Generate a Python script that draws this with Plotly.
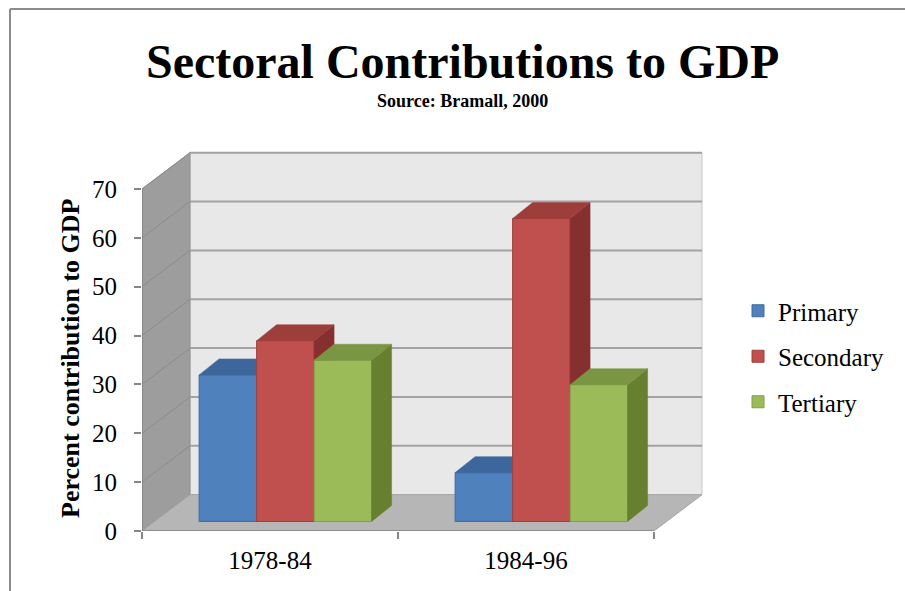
import plotly.graph_objects as go

# ---------------- data ----------------
categories = ["1978-84", "1984-96"]
series_names = ["Primary", "Secondary", "Tertiary"]
primary = [30, 10]
secondary = [37, 62]
tertiary = [33, 28]
y_ticks = [0, 10, 20, 30, 40, 50, 60, 70]

# ---------------- style ----------------
front_colors = ["#4f81bd", "#c0504d", "#9bbb59"]
top_colors = ["#3d679c", "#9e3e3b", "#7b9642"]
side_colors = ["#30558a", "#85302e", "#66802f"]
edge_colors = ["#3e6a9f", "#a03f3c", "#80a048"]
FONT = "Liberation Serif, Times New Roman, serif"

W, H = 905, 591
L, R, T, B = 142, 195, 150, 60
BAR_W = 0.2246
GROUP_SHIFT = 0.06
BASE = 1.95
DEPTH_X = 0.078
DEPTH_Y = 3.27
WALL_X = 0.1875
WALL_Y = 7.43
X_LO, X_HI = -0.5, 1.5
X_RANGE = [-0.5, -0.5 + (W - L - R) / 256.0]
Y_RANGE = [0, (H - B - T) / 4.886]

fig = go.Figure()
values = [primary, secondary, tertiary]
cat_x = list(range(len(categories)))

for s, (name, vals) in enumerate(zip(series_names, values)):
    xs = [c + GROUP_SHIFT + (s - 1) * BAR_W for c in cat_x]
    fig.add_trace(go.Bar(
        x=xs, y=vals, base=BASE, width=BAR_W, name=name,
        marker=dict(color=front_colors[s], line=dict(color=edge_colors[s], width=1)),
        zorder=s, legendgroup=name, hoverinfo="skip"))
    for x, v in zip(xs, vals):
        x0, x1 = x - BAR_W / 2, x + BAR_W / 2
        yb, yt = BASE, BASE + v
        fig.add_trace(go.Scatter(
            x=[x1, x1 + DEPTH_X, x1 + DEPTH_X, x1, x1],
            y=[yb, yb + DEPTH_Y, yt + DEPTH_Y, yt, yb],
            fill="toself", fillcolor=side_colors[s], mode="lines",
            line=dict(color=side_colors[s], width=0.5),
            showlegend=False, hoverinfo="skip", zorder=s, legendgroup=name))
        fig.add_trace(go.Scatter(
            x=[x0, x1, x1 + DEPTH_X, x0 + DEPTH_X, x0],
            y=[yt, yt, yt + DEPTH_Y, yt + DEPTH_Y, yt],
            fill="toself", fillcolor=top_colors[s], mode="lines",
            line=dict(color=top_colors[s], width=0.5),
            showlegend=False, hoverinfo="skip", zorder=s, legendgroup=name))

shapes = []
top = y_ticks[-1]
# back wall
shapes.append(dict(type="rect", xref="x", yref="y", layer="below",
                   x0=X_LO + WALL_X, x1=X_HI + WALL_X, y0=WALL_Y, y1=top + WALL_Y,
                   fillcolor="#e8e8e8", line=dict(color="#c8c8c8", width=1)))
# left wall
shapes.append(dict(type="path", xref="x", yref="y", layer="below",
                   path=f"M {X_LO},0 L {X_LO + WALL_X},{WALL_Y} L {X_LO + WALL_X},{top + WALL_Y} L {X_LO},{top} Z",
                   fillcolor="#9d9d9d", line=dict(color="#8f8f8f", width=1)))
# floor
shapes.append(dict(type="path", xref="x", yref="y", layer="below",
                   path=f"M {X_LO},0 L {X_HI},0 L {X_HI + WALL_X},{WALL_Y} L {X_LO + WALL_X},{WALL_Y} Z",
                   fillcolor="#b6b6b6", line=dict(color="#a4a4a4", width=1)))
# gridlines
for t in y_ticks[1:]:
    shapes.append(dict(type="line", xref="x", yref="y", layer="below",
                       x0=X_LO + WALL_X, x1=X_HI + WALL_X, y0=t + WALL_Y, y1=t + WALL_Y,
                       line=dict(color="#a2a2a2", width=2)))
    shapes.append(dict(type="line", xref="x", yref="y", layer="below",
                       x0=X_LO, x1=X_LO + WALL_X, y0=t, y1=t + WALL_Y,
                       line=dict(color="#8c8c8c", width=1)))
# front axis lines
shapes.append(dict(type="line", xref="x", yref="y", layer="below",
                   x0=X_LO, x1=X_LO, y0=0, y1=top, line=dict(color="#868686", width=1.5)))
shapes.append(dict(type="line", xref="x", yref="y", layer="below",
                   x0=X_LO, x1=X_HI, y0=0, y1=0, line=dict(color="#868686", width=1.5)))
# outer chart border (cropped)
pw, ph = W - L - R, H - T - B
bx = (10 - L) / pw
by = (H - B - 9) / ph
shapes.append(dict(type="line", xref="paper", yref="paper", x0=bx, x1=bx, y0=by, y1=-1,
                   line=dict(color="#8c8c8c", width=2)))
shapes.append(dict(type="line", xref="paper", yref="paper", x0=bx, x1=3, y0=by, y1=by,
                   line=dict(color="#8c8c8c", width=2)))

def px_x(p):
    return (p - L) / pw

def px_y(p):
    return (H - B - p) / ph

annotations = [
    dict(text="<b>Sectoral Contributions to GDP</b>", xref="paper", yref="paper",
         x=px_x(462.5), y=px_y(61), xanchor="center", yanchor="middle", showarrow=False,
         font=dict(family=FONT, size=48, color="black")),
    dict(text="<b>Source: Bramall, 2000</b>", xref="paper", yref="paper",
         x=px_x(462), y=px_y(101), xanchor="center", yanchor="middle", showarrow=False,
         font=dict(family=FONT, size=18, color="black")),
    dict(text="<b>Percent contribution to GDP</b>", xref="paper", yref="paper",
         x=px_x(70), y=px_y(358), xanchor="center", yanchor="middle", showarrow=False,
         textangle=-90, font=dict(family=FONT, size=26, color="black")),
]

fig.update_layout(
    width=W, height=H, margin=dict(l=L, r=R, t=T, b=B),
    paper_bgcolor="white", plot_bgcolor="white",
    barmode="overlay", showlegend=True,
    shapes=shapes, annotations=annotations,
    font=dict(family=FONT, size=25, color="black"),
    legend=dict(xref="container", yref="container", x=738 / W, y=1 - 288 / H,
                xanchor="left", yanchor="top", traceorder="grouped", tracegroupgap=10,
                font=dict(family=FONT, size=25, color="black"), itemwidth=30,
                bgcolor="rgba(0,0,0,0)"),
    xaxis=dict(range=X_RANGE, showgrid=False, zeroline=False, showline=False,
               tickmode="array", tickvals=cat_x, ticktext=categories, ticks="",
               tickfont=dict(family=FONT, size=25, color="black"),
               minor=dict(tickmode="array", tickvals=[-0.5, 0.5, 1.5], ticks="outside",
                          ticklen=7, tickcolor="#868686", tickwidth=1.5, showgrid=False),
               ticklabelstandoff=12),
    yaxis=dict(range=Y_RANGE, showgrid=False, zeroline=False, showline=False,
               tickmode="array", tickvals=y_ticks, ticks="outside", ticklen=7,
               tickcolor="#868686", tickwidth=1.5,
               tickfont=dict(family=FONT, size=25, color="black"),
               ticklabelstandoff=12),
)

fig.write_html("out.html")
